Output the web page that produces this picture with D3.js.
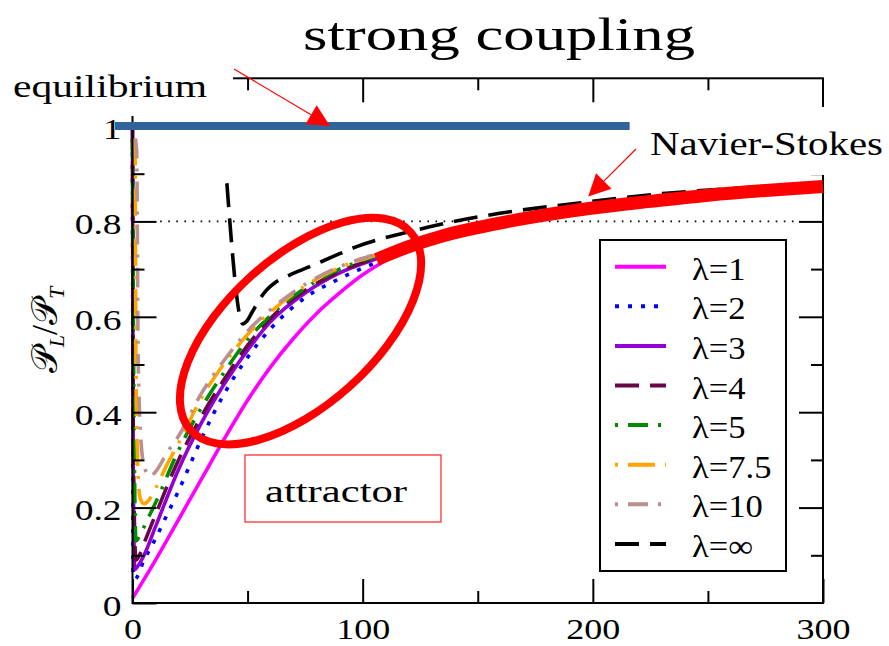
<!DOCTYPE html>
<html><head><meta charset="utf-8">
<script src="https://cdn.jsdelivr.net/npm/d3@7"></script>
<style>
body{margin:0;background:#fff}
svg{display:block}
svg text{font-family:"Liberation Serif","Times New Roman","DejaVu Serif",serif !important;fill:#000}
</style>
</head><body><script>
// ---------- data ----------
const legendLabels = ["λ=1","λ=2","λ=3","λ=4","λ=5","λ=7.5","λ=10","λ=∞"];
const xTicksMajor = [0,100,200,300];
const xTicksMinor = [50,150,250];
const yTicksMajor = [0,0.2,0.4,0.6,0.8,1];
const yTicksMinor = [0.1,0.3,0.5,0.7,0.9];

const t1 = [0,10,20,30,40,50,60,70,80,90,100,110,120,140,160,180,200,230,260,300];
const r1 = [0.01,0.09,0.175,0.26,0.345,0.425,0.495,0.555,0.607,0.65,0.688,0.718,0.742,0.772,0.796,0.815,0.83,0.845,0.856,0.866];

const t2 = [0,0.3,1,5,10,15,20,25,30,40,50,60,75,90,105,120,140,160,200,250,300];
const r2 = [1.0,0.06,0.05,0.09,0.135,0.185,0.235,0.29,0.345,0.44,0.515,0.575,0.64,0.68,0.712,0.74,0.77,0.795,0.83,0.852,0.866];

const t3 = [0,0.3,1,2,5,10,20,30,40,50,60,75,90,105,120,140,160,200,250,300];
const r3 = [1.0,0.3,0.07,0.075,0.1,0.16,0.28,0.378,0.46,0.53,0.59,0.65,0.692,0.72,0.745,0.772,0.797,0.831,0.853,0.866];

const t4 = [0,0.4,1.5,3,5,10,20,30,40,50,60,75,90,105,120,140,160,200,250,300];
const r4 = [1.0,0.3,0.09,0.1,0.125,0.185,0.30,0.392,0.47,0.54,0.597,0.655,0.695,0.722,0.746,0.773,0.797,0.831,0.853,0.866];

const t5 = [0,0.5,1.5,3,6,10,20,30,40,50,60,75,90,105,120,140,160,200,250,300];
const r5 = [1.0,0.5,0.13,0.14,0.17,0.21,0.32,0.41,0.485,0.552,0.603,0.66,0.70,0.726,0.748,0.775,0.798,0.832,0.853,0.866];

const t75 = [0,1.1,1.5,2.2,3.3,5,7,10,15,20,30,40,50,60,75,90,105,120,140,160,200,250,300];
const r75 = [1.0,0.95,0.5,0.3,0.22,0.208,0.215,0.24,0.29,0.335,0.43,0.503,0.563,0.61,0.665,0.703,0.728,0.749,0.776,0.799,0.832,0.853,0.865];

const t10 = [0,1.8,2.5,4,5.5,7.5,10,15,20,30,40,50,60,75,90,105,120,140,160,200,250,300];
const r10 = [1.0,0.95,0.5,0.32,0.28,0.265,0.275,0.315,0.35,0.44,0.51,0.57,0.615,0.668,0.705,0.73,0.75,0.777,0.80,0.833,0.854,0.865];

const tInf = [41,48,49.5,52,55,58,62,68,77,87,97.4,107,117.6,132,159.6,193,232,261,300];
const rInf = [0.88,0.585,0.59,0.61,0.635,0.655,0.672,0.687,0.705,0.726,0.747,0.762,0.775,0.792,0.817,0.838,0.859,0.869,0.88];

const tNS = [106,120,135,150,175,200,225,250,275,300];
const rNS = [0.72,0.747,0.77,0.787,0.81,0.828,0.842,0.855,0.865,0.873];

const tEq = [-7.6,216], rEq = [1,1];
const tRef = [12,288], rRef = [0.8,0.8];

// ---------- setup ----------
const W = 889, H = 646;
const FONT = '"Liberation Serif","Times New Roman","DejaVu Serif",serif';
const svg = d3.select("body").append("svg").attr("width", W).attr("height", H);
const x = d3.scaleLinear().domain([0,300]).range([132.5,823]);
const y = d3.scaleLinear().domain([0,1.1]).range([603,78.3]);

function stretchTo(sel, w){ sel.attr("textLength", w).attr("lengthAdjust","spacingAndGlyphs"); }
function stretchBy(sel, f){ sel.each(function(){ const w=this.getComputedTextLength(); d3.select(this).attr("textLength", w*f).attr("lengthAdjust","spacingAndGlyphs"); }); }

const series = [
  {t:t1, r:r1, color:"#ff00ff", dash:null},
  {t:t2, r:r2, color:"#0000ff", dash:"4,9"},
  {t:t3, r:r3, color:"#9400d3", dash:null},
  {t:t4, r:r4, color:"#670748", dash:"24,11"},
  {t:t5, r:r5, color:"#008b00", dash:"3,10,20,10"},
  {t:t75, r:r75, color:"#ffa500", dash:"3,10,27,10"},
  {t:t10, r:r10, color:"#bc8f8f", dash:"3,10,20,10"},
  {t:tInf, r:rInf, color:"#000000", dash:"24,11"}
];

const line = d3.line().x(d=>x(d[0])).y(d=>y(d[1])).curve(d3.curveMonotoneX);
const zip = (a,b)=>a.map((v,i)=>[v,b[i]]);

// reference dotted line
svg.append("path").attr("d", d3.line().x(d=>x(d[0])).y(d=>y(d[1]))(zip(tRef,rRef)))
  .attr("stroke","#000").attr("stroke-width",1.6).attr("stroke-dasharray","1.6,6.5").attr("fill","none");

// curves
series.forEach(s=>{
  svg.append("path").attr("d", line(zip(s.t,s.r)))
    .attr("fill","none").attr("stroke",s.color).attr("stroke-width",3.6)
    .attr("stroke-dasharray", s.dash);
});

// frame + axes
svg.append("rect").attr("x",x(0)).attr("y",y(1.1)).attr("width",x(300)-x(0)).attr("height",y(0)-y(1.1))
  .attr("fill","none").attr("stroke","#000").attr("stroke-width",2);

function styleAxis(g){
  g.select(".domain").remove();
  g.selectAll(".tick line").attr("stroke","#000").attr("stroke-width",2);
  g.attr("font-family",FONT).attr("font-size",30);
}
const fmt = d => d===0 ? "0" : d===1 ? "1" : d.toFixed(1);
const gL = svg.append("g").attr("transform",`translate(${x(0)},0)`)
  .call(d3.axisLeft(y).tickValues(yTicksMajor).tickSize(-24).tickSizeOuter(0).tickPadding(11).tickFormat(fmt));
styleAxis(gL);
gL.selectAll("text").attr("dy","0.41em").call(stretchBy,1.25);
const gLm = svg.append("g").attr("transform",`translate(${x(0)},0)`)
  .call(d3.axisLeft(y).tickValues(yTicksMinor).tickSize(-12).tickSizeOuter(0).tickFormat(""));
styleAxis(gLm);

const gB = svg.append("g").attr("transform",`translate(0,${y(0)})`)
  .call(d3.axisBottom(x).tickValues(xTicksMajor).tickSize(-24).tickSizeOuter(0).tickPadding(15));
styleAxis(gB);
gB.selectAll("text").call(stretchBy,1.2);
const gBm = svg.append("g").attr("transform",`translate(0,${y(0)})`)
  .call(d3.axisBottom(x).tickValues(xTicksMinor).tickSize(-12).tickSizeOuter(0).tickFormat(""));
styleAxis(gBm);

const gR = svg.append("g").attr("transform",`translate(${x(300)},0)`)
  .call(d3.axisRight(y).tickValues(yTicksMajor.slice(1)).tickSize(-24).tickSizeOuter(0).tickFormat(""));
styleAxis(gR);
const gRm = svg.append("g").attr("transform",`translate(${x(300)},0)`)
  .call(d3.axisRight(y).tickValues(yTicksMinor).tickSize(-12).tickSizeOuter(0).tickFormat(""));
styleAxis(gRm);

const gT = svg.append("g").attr("transform",`translate(0,${y(1.1)})`)
  .call(d3.axisTop(x).tickValues(xTicksMajor.slice(1,3)).tickSize(-24).tickSizeOuter(0).tickFormat(""));
styleAxis(gT);
const gTm = svg.append("g").attr("transform",`translate(0,${y(1.1)})`)
  .call(d3.axisTop(x).tickValues(xTicksMinor).tickSize(-12).tickSizeOuter(0).tickFormat(""));
styleAxis(gTm);

// Navier-Stokes thick red line
svg.append("path").attr("d", line(zip(tNS,rNS)))
  .attr("fill","none").attr("stroke","#ff0000").attr("stroke-width",13).attr("stroke-linecap","butt");

// equilibrium blue line
svg.append("path").attr("d", d3.line().x(d=>x(d[0])).y(d=>y(d[1]))(zip(tEq,rEq)))
  .attr("stroke","#30649a").attr("stroke-width",8).attr("fill","none");

// attractor ellipse
svg.append("ellipse").attr("cx",0).attr("cy",0).attr("rx",148).attr("ry",74)
  .attr("transform",`translate(${x(73)},${y(0.57)}) rotate(-42)`)
  .attr("fill","none").attr("stroke","#ff0000").attr("stroke-width",8);

// white label covers
svg.append("rect").attr("x",0).attr("y",0).attr("width",233).attr("height",116).attr("fill","#fff");
svg.append("rect").attr("x",640).attr("y",107).attr("width",249).attr("height",68).attr("fill","#fff");

// legend
const lg = svg.append("g");
lg.append("rect").attr("x",600).attr("y",240).attr("width",186).attr("height",331)
  .attr("fill","#fff").attr("stroke","#000").attr("stroke-width",2);
legendLabels.forEach((lab,i)=>{
  const yy = 266.7 + i*39.6;
  lg.append("line").attr("x1",615).attr("x2",666).attr("y1",yy).attr("y2",yy)
    .attr("stroke",series[i].color).attr("stroke-width",4).attr("stroke-dasharray",series[i].dash);
  lg.append("text").attr("x",692).attr("y",yy+13).attr("font-family",FONT).attr("font-size",32).text(lab).call(stretchBy,1.08);
});

// attractor box
svg.append("rect").attr("x",245).attr("y",455).attr("width",196).attr("height",67)
  .attr("fill","#fff").attr("stroke","#ff3030").attr("stroke-width",1.3);
svg.append("text").attr("x",265).attr("y",501.7).attr("font-family",FONT).attr("font-size",32).text("attractor").call(stretchTo,142);

// arrows
function arrow(x0,y0,x1,y1){
  const dx=x1-x0, dy=y1-y0, L=Math.hypot(dx,dy), ux=dx/L, uy=dy/L;
  const hl=22, hw=11, bx=x1-ux*hl, by=y1-uy*hl;
  svg.append("line").attr("x1",x0).attr("y1",y0).attr("x2",bx).attr("y2",by)
    .attr("stroke","#ff0000").attr("stroke-width",1.2);
  svg.append("path").attr("d",`M${x1},${y1}L${bx-uy*hw},${by+ux*hw}L${bx+uy*hw},${by-ux*hw}Z`).attr("fill","#ff0000");
}
arrow(234,69,x(85.8),y(1.0));
arrow(636,149,x(198),y(0.852));

// texts
svg.append("text").attr("x",303).attr("y",50).attr("font-family",FONT).attr("font-size",46).text("strong coupling").call(stretchTo,392);
svg.append("text").attr("x",13).attr("y",96.7).attr("font-family",FONT).attr("font-size",32).text("equilibrium").call(stretchTo,194);
svg.append("text").attr("x",650).attr("y",155).attr("font-family",FONT).attr("font-size",33).text("Navier-Stokes").call(stretchTo,233);

// y label
const yl = svg.append("text").attr("transform","translate(57,330) rotate(-90)").attr("text-anchor","middle")
  .attr("font-family",FONT).attr("font-size",36);
yl.append("tspan").text("𝒫");
yl.append("tspan").attr("dy",7).attr("font-size",22).attr("font-style","italic").text("L");
yl.append("tspan").attr("dy",-7).text("/");
yl.append("tspan").text("𝒫");
yl.append("tspan").attr("dy",7).attr("font-size",22).attr("font-style","italic").text("T");
</script></body></html>
